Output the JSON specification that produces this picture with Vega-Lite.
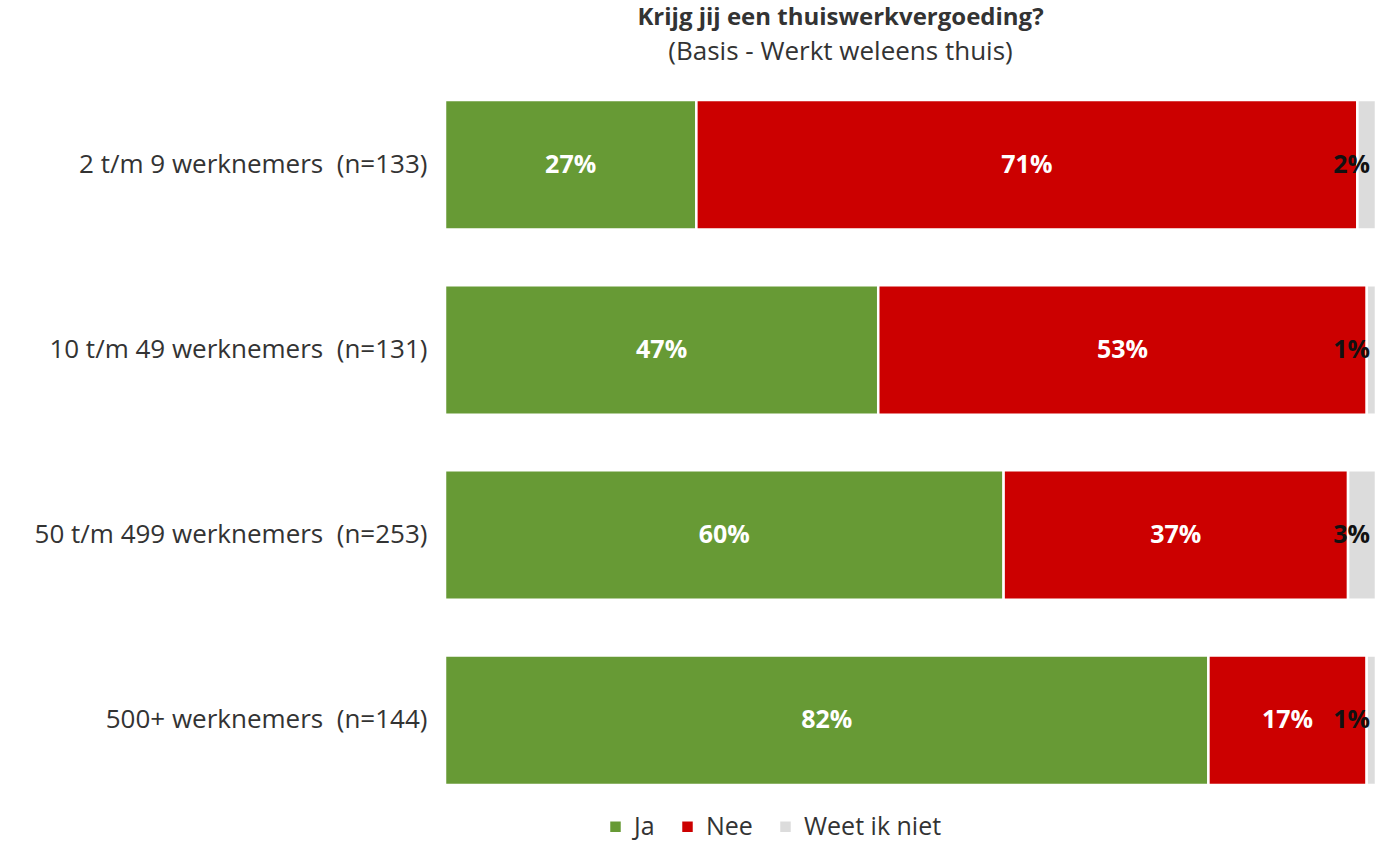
{
  "$schema": "https://vega.github.io/schema/vega-lite/v6.json",
  "width": 931,
  "height": 685,
  "padding": {"left": 0, "top": 5, "right": 10, "bottom": 10},
  "background": "white",
  "config": {
    "view": {"stroke": null},
    "font": "Open Sans"
  },
  "title": {
    "text": "Krijg jij een thuiswerkvergoeding?",
    "subtitle": "(Basis - Werkt weleens thuis)",
    "anchor": "middle",
    "frame": "group",
    "dx": -70,
    "font": "Open Sans",
    "fontSize": 24,
    "fontWeight": "bold",
    "color": "#333333",
    "subtitleFont": "Open Sans",
    "subtitleFontSize": 26,
    "subtitleColor": "#333333",
    "subtitlePadding": 9,
    "offset": 34
  },
  "data": {
    "values": [
      {"groep": "2 t/m 9 werknemers\u00a0 (n=133)", "antwoord": "Ja", "pct": 0.27},
      {"groep": "2 t/m 9 werknemers\u00a0 (n=133)", "antwoord": "Nee", "pct": 0.71},
      {"groep": "2 t/m 9 werknemers\u00a0 (n=133)", "antwoord": "Weet ik niet", "pct": 0.02},
      {"groep": "10 t/m 49 werknemers\u00a0 (n=131)", "antwoord": "Ja", "pct": 0.47},
      {"groep": "10 t/m 49 werknemers\u00a0 (n=131)", "antwoord": "Nee", "pct": 0.53},
      {"groep": "10 t/m 49 werknemers\u00a0 (n=131)", "antwoord": "Weet ik niet", "pct": 0.01},
      {"groep": "50 t/m 499 werknemers\u00a0 (n=253)", "antwoord": "Ja", "pct": 0.60},
      {"groep": "50 t/m 499 werknemers\u00a0 (n=253)", "antwoord": "Nee", "pct": 0.37},
      {"groep": "50 t/m 499 werknemers\u00a0 (n=253)", "antwoord": "Weet ik niet", "pct": 0.03},
      {"groep": "500+ werknemers\u00a0 (n=144)", "antwoord": "Ja", "pct": 0.82},
      {"groep": "500+ werknemers\u00a0 (n=144)", "antwoord": "Nee", "pct": 0.17},
      {"groep": "500+ werknemers\u00a0 (n=144)", "antwoord": "Weet ik niet", "pct": 0.01}
    ]
  },
  "encoding": {
    "y": {
      "field": "groep",
      "type": "nominal",
      "sort": null,
      "scale": {"paddingInner": 0.3, "paddingOuter": 0},
      "axis": {
        "title": null,
        "domain": false,
        "ticks": false,
        "labelFont": "Open Sans",
        "labelFontSize": 26,
        "labelColor": "#333333",
        "labelPadding": 18,
        "labelLimit": 500,
        "minExtent": 445,
        "maxExtent": 445
      }
    }
  },
  "layer": [
    {
      "mark": {"type": "bar", "stroke": "white", "strokeWidth": 2.5},
      "encoding": {
        "x": {"field": "pct", "type": "quantitative", "stack": "normalize", "axis": null, "scale": {"nice": false}},
        "order": {"field": "antwoord", "sort": "ascending"},
        "color": {
          "field": "antwoord",
          "type": "nominal",
          "scale": {"domain": ["Ja", "Nee", "Weet ik niet"], "range": ["#679A35", "#CC0000", "#DCDCDC"]},
          "legend": {
            "title": null,
            "orient": "none",
            "direction": "horizontal",
            "legendX": 158,
            "legendY": 714,
            "symbolType": "square",
            "symbolSize": 110,
            "symbolStrokeWidth": 0,
            "labelFont": "Open Sans",
            "labelFontSize": 25,
            "labelColor": "#333333",
            "columnPadding": 20,
            "labelOffset": 6
          }
        }
      }
    },
    {
      "mark": {"type": "text", "fontSize": 25, "fontWeight": "bold", "fill": "white", "align": "center", "baseline": "middle", "font": "Open Sans"},
      "encoding": {
        "x": {"field": "pct", "type": "quantitative", "stack": "normalize", "bandPosition": 0.5},
        "order": {"field": "antwoord", "sort": "ascending"},
        "text": {"field": "pct", "type": "quantitative", "format": ".0%"},
        "opacity": {"condition": {"test": "datum.antwoord === 'Weet ik niet'", "value": 0}, "value": 1},
        "detail": {"field": "antwoord"}
      }
    },
    {
      "mark": {"type": "text", "fontSize": 25, "fontWeight": "bold", "fill": "#111111", "align": "right", "baseline": "middle", "dx": -6, "font": "Open Sans"},
      "encoding": {
        "x": {"field": "pct", "type": "quantitative", "stack": "normalize", "bandPosition": 1},
        "order": {"field": "antwoord", "sort": "ascending"},
        "text": {"field": "pct", "type": "quantitative", "format": ".0%"},
        "opacity": {"condition": {"test": "datum.antwoord === 'Weet ik niet'", "value": 1}, "value": 0},
        "detail": {"field": "antwoord"}
      }
    }
  ]
}
